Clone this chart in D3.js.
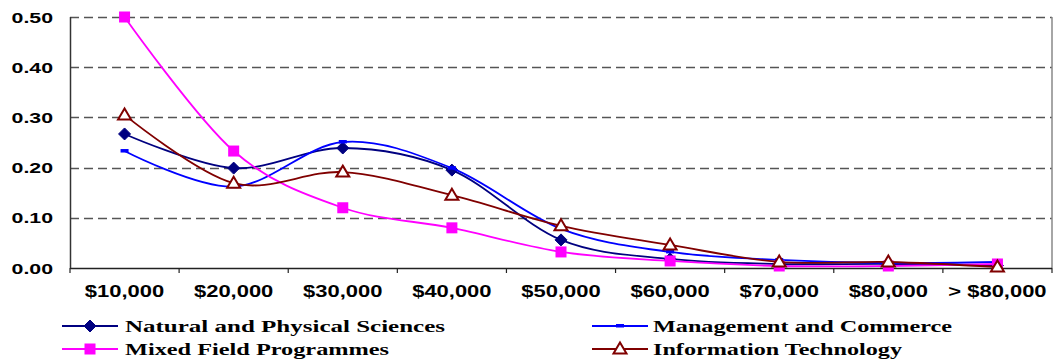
<!DOCTYPE html>
<html>
<head>
<meta charset="utf-8">
<script src="https://cdn.jsdelivr.net/npm/d3@7"></script>
<style>
  html, body { margin: 0; padding: 0; background: #fff; }
  svg { display: block; }
</style>
</head>
<body>
<svg id="chart" width="1054" height="360"></svg>
<script>
// Income bands and the share of graduates in each, by field of study
const categories = ["$10,000", "$20,000", "$30,000", "$40,000", "$50,000", "$60,000", "$70,000", "$80,000", "> $80,000"];
const naturalSciences = [0.267, 0.199, 0.239, 0.195, 0.056, 0.018, 0.008, 0.008, 0.005];
const managementCommerce = [0.233, 0.162, 0.251, 0.199, 0.078, 0.032, 0.016, 0.010, 0.012];
const mixedField = [0.500, 0.233, 0.120, 0.080, 0.032, 0.014, 0.004, 0.004, 0.008];
const informationTech = [0.305, 0.169, 0.191, 0.145, 0.084, 0.046, 0.012, 0.012, 0.002];
const yTicks = [0.0, 0.1, 0.2, 0.3, 0.4, 0.5];

const series = [
  { name: "Natural and Physical Sciences", values: naturalSciences, color: "#000080", marker: "diamond" },
  { name: "Management and Commerce", values: managementCommerce, color: "#0000FF", marker: "dash" },
  { name: "Mixed Field Programmes", values: mixedField, color: "#FF00FF", marker: "square" },
  { name: "Information Technology", values: informationTech, color: "#800000", marker: "triangle" }
];

const svg = d3.select("#chart");
const plot = { left: 70, right: 1052, top: 17, bottom: 268 };

const x = d3.scaleBand().domain(categories).range([plot.left, plot.right]);
const y = d3.scaleLinear().domain([0, 0.5]).range([plot.bottom, plot.top]);

// stretch text horizontally to a given factor of its natural width
function stretch(sel, factor) {
  sel.each(function () {
    const w = this.getComputedTextLength();
    d3.select(this).attr("textLength", w * factor).attr("lengthAdjust", "spacingAndGlyphs");
  });
}

// dashed horizontal gridlines
svg.append("g").selectAll("line")
  .data(yTicks.filter(d => d > 0))
  .join("line")
  .attr("x1", plot.left).attr("x2", plot.right)
  .attr("y1", d => Math.round(y(d)) + 0.5).attr("y2", d => Math.round(y(d)) + 0.5)
  .attr("stroke", "#555").attr("stroke-width", 1.3)
  .attr("stroke-dasharray", "9,5");

// right border of plot area
svg.append("line")
  .attr("x1", plot.right).attr("x2", plot.right)
  .attr("y1", plot.top).attr("y2", plot.bottom)
  .attr("stroke", "#888").attr("stroke-width", 1.5);

// x axis: ticks between categories
const xAxis = svg.append("g");
xAxis.append("line")
  .attr("x1", plot.left).attr("x2", plot.right)
  .attr("y1", plot.bottom + 0.5).attr("y2", plot.bottom + 0.5)
  .attr("stroke", "#222").attr("stroke-width", 1.5);
const boundaries = categories.map(c => x(c)).concat([plot.right]);
xAxis.selectAll("line.tick")
  .data(boundaries)
  .join("line").attr("class", "tick")
  .attr("x1", d => d).attr("x2", d => d)
  .attr("y1", plot.bottom).attr("y2", plot.bottom + 5)
  .attr("stroke", "#222").attr("stroke-width", 1.2);
xAxis.selectAll("text")
  .data(categories)
  .join("text")
  .attr("x", d => x(d) + x.bandwidth() / 2)
  .attr("y", 297)
  .attr("text-anchor", "middle")
  .attr("font-family", "Liberation Sans, Arial, sans-serif")
  .attr("font-weight", "bold")
  .attr("font-size", 16.5)
  .attr("fill", "#000")
  .text(d => d)
  .call(stretch, 1.33);

// y axis
const yAxis = svg.append("g");
yAxis.append("line")
  .attr("x1", plot.left + 0.5).attr("x2", plot.left + 0.5)
  .attr("y1", plot.top).attr("y2", plot.bottom)
  .attr("stroke", "#333").attr("stroke-width", 1.5);
yAxis.selectAll("text")
  .data(yTicks)
  .join("text")
  .attr("x", 53)
  .attr("y", d => y(d) + 5.5)
  .attr("text-anchor", "end")
  .attr("font-family", "Liberation Sans, Arial, sans-serif")
  .attr("font-weight", "bold")
  .attr("font-size", 15)
  .attr("fill", "#000")
  .text(d => d3.format(".2f")(d))
  .call(stretch, 1.42);

// smoothed series lines
const line = d3.line()
  .x((d, i) => x(categories[i]) + x.bandwidth() / 2)
  .y(d => y(d))
  .curve(d3.curveCatmullRom.alpha(0));

function drawMarker(g, type, color, cx, cy) {
  if (type === "diamond") {
    g.append("path")
      .attr("d", `M${cx},${cy - 6}L${cx + 6},${cy}L${cx},${cy + 6}L${cx - 6},${cy}Z`)
      .attr("fill", color).attr("stroke", color).attr("stroke-width", 1);
  } else if (type === "square") {
    g.append("rect")
      .attr("x", cx - 5.5).attr("y", cy - 5.5).attr("width", 11).attr("height", 11)
      .attr("fill", color);
  } else if (type === "dash") {
    g.append("rect")
      .attr("x", cx - 4).attr("y", cy - 2).attr("width", 8).attr("height", 3.5)
      .attr("fill", color);
  } else if (type === "triangle") {
    g.append("path")
      .attr("d", `M${cx},${cy - 6.5}L${cx + 6.5},${cy + 4.5}L${cx - 6.5},${cy + 4.5}Z`)
      .attr("fill", "#fff").attr("stroke", color).attr("stroke-width", 2);
  }
}

series.forEach(s => {
  const g = svg.append("g");
  g.append("path")
    .datum(s.values)
    .attr("d", line)
    .attr("fill", "none")
    .attr("stroke", s.color)
    .attr("stroke-width", 1.8);
  s.values.forEach((v, i) => {
    drawMarker(g, s.marker, s.color, x(categories[i]) + x.bandwidth() / 2, y(v));
  });
});

// legend in two columns
const legendPos = [
  { lx: 62, tx: 125, y: 326, w: 320 },
  { lx: 592, tx: 653, y: 326, w: 299 },
  { lx: 62, tx: 125, y: 349, w: 264 },
  { lx: 592, tx: 653, y: 349, w: 249 }
];
series.forEach((s, i) => {
  const p = legendPos[i];
  const g = svg.append("g");
  g.append("line")
    .attr("x1", p.lx).attr("x2", p.lx + 56)
    .attr("y1", p.y).attr("y2", p.y)
    .attr("stroke", s.color).attr("stroke-width", 1.8);
  drawMarker(g, s.marker, s.color, p.lx + 28, p.y);
  g.append("text")
    .attr("x", p.tx)
    .attr("y", p.y + 6)
    .attr("font-family", "Liberation Serif, Times New Roman, serif")
    .attr("font-weight", "bold")
    .attr("font-size", 16)
    .attr("fill", "#000")
    .attr("textLength", p.w)
    .attr("lengthAdjust", "spacingAndGlyphs")
    .text(s.name);
});
</script>
</body>
</html>
